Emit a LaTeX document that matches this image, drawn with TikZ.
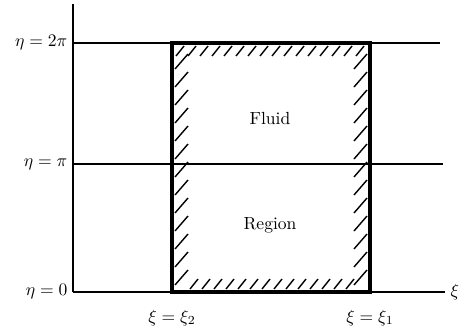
\documentclass[tikz,border=0pt]{standalone}
\usepackage{amsmath,amssymb}
\usetikzlibrary{positioning}

\begin{document}
\begin{tikzpicture}[
  x=0.02cm, y=-0.02cm,
  font=\normalsize,
  axisline/.style={line width=0.8pt},
  wall/.style={line width=2.8pt, line cap=rect},
  hatch/.style={line width=0.8pt},
  lbl/.style={inner sep=1pt}
]
\useasboundingbox (0,0) rectangle (463,329);

% axes and coordinate lines
\coordinate (origin) at (73,292);
\coordinate (axtop) at (73,4);
\coordinate (topend) at (440,43);
\coordinate (midend) at (443,164);
\coordinate (botend) at (445,292);
\draw[axisline] (origin) -- (axtop);
\draw[axisline] (origin) -- (botend);
\draw[axisline] (73,43) coordinate (topstart) -- (topend);
\draw[axisline] (73,164) coordinate (midstart) -- (midend);

% fluid region
\coordinate (sw) at (172,292);
\coordinate (ne) at (370,43);
\draw[wall] (sw) rectangle (ne);

% hatching along the walls
\foreach \y in {285,267,249,231,213,195,177,159,141,123,105,87,69}
  \draw[hatch] (175,\y) -- (188,\y-15);
\foreach \y in {285,267,249,231,213,195,177,159,141,123,105,87,69}
  \draw[hatch] (354,\y) -- (367,\y-15);
\foreach \x in {176,188,200,212,224,236,248,260,272,284,296,308,320,332,344,356}
  \draw[hatch] (\x,56) -- (\x+8,46);
\foreach \x in {190,202,214,226,238,250,262,274,286,298,310,322,334,346}
  \draw[hatch] (\x,289) -- (\x+8,279);

% labels
\node[lbl, left=2pt of topstart] (eta2) {$\eta=2\pi$};
\node[lbl, left=2pt of midstart] (eta1) {$\eta=\pi$};
\node[lbl, left=2pt of origin] (eta0) {$\eta=0$};
\node[lbl, below=9pt of sw] (xi2) {$\xi=\xi_2$};
\node[lbl, below=9pt of ne |- sw] (xi1) {$\xi=\xi_1$};
\node[inner sep=0pt, right=3pt of botend] (xi) {$\xi$};
\node (fluid) at (270,118) {Fluid};
\node (region) at (270,225) {Region};
\end{tikzpicture}
\end{document}
